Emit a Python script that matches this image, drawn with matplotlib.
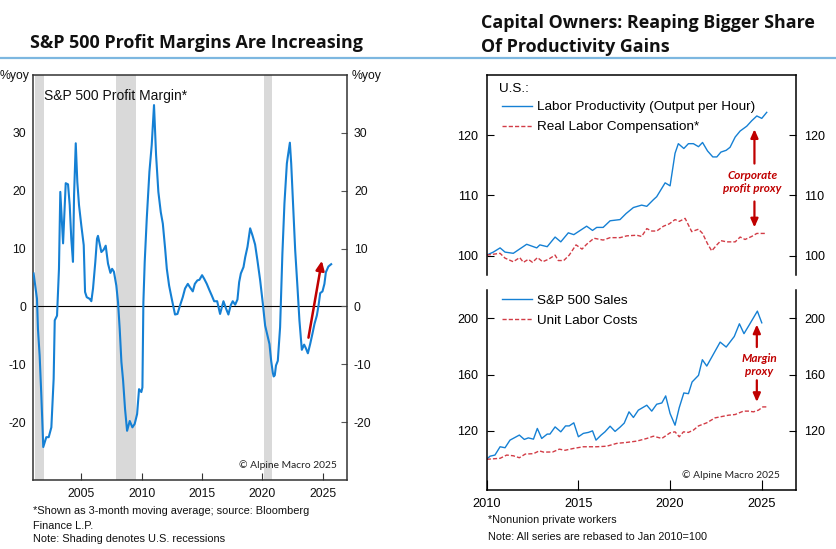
import matplotlib
matplotlib.use("Agg")
import matplotlib.pyplot as plt
from matplotlib.lines import Line2D

W, H = 836, 549
BLUE = "#1580D4"
RED = "#D23C46"
DARKRED = "#C00000"
SHADE = "#D9D9D9"
LINEBLUE = "#7DB7E0"

# ---------------- data: left chart ----------------
pm_year = [2001.05, 2001.33, 2001.41, 2001.55, 2001.69, 2001.85, 2002.1, 2002.3, 2002.52, 2002.71,
           2002.8, 2002.99, 2003.15, 2003.26, 2003.49, 2003.71, 2003.9, 2004.04, 2004.17, 2004.31,
           2004.4, 2004.54, 2004.67, 2004.81, 2005.0, 2005.2, 2005.31, 2005.45, 2005.7, 2005.83,
           2005.97, 2006.16, 2006.3, 2006.38, 2006.66, 2006.85, 2007.02, 2007.21, 2007.41, 2007.55,
           2007.7, 2007.9, 2008.04, 2008.18, 2008.32, 2008.46, 2008.62, 2008.79, 2009.01, 2009.23,
           2009.42, 2009.62, 2009.78, 2009.97, 2010.06, 2010.14, 2010.25, 2010.42, 2010.64, 2010.83,
           2011.02, 2011.19, 2011.38, 2011.58, 2011.75, 2011.94, 2012.08, 2012.27, 2012.49, 2012.76,
           2012.96, 2013.18, 2013.4, 2013.59, 2013.82, 2014.0, 2014.23, 2014.4, 2014.61, 2014.78,
           2015.0, 2015.17, 2015.39, 2015.61, 2015.8, 2016.0, 2016.25, 2016.49, 2016.77, 2016.99,
           2017.18, 2017.37, 2017.54, 2017.74, 2017.93, 2018.07, 2018.21, 2018.43, 2018.57, 2018.76,
           2018.98, 2019.17, 2019.39, 2019.58, 2019.81, 2020.03, 2020.22, 2020.44, 2020.58, 2020.72,
           2020.86, 2020.93, 2021.02, 2021.12, 2021.27, 2021.46, 2021.65, 2021.82, 2022.02, 2022.1,
           2022.27, 2022.38, 2022.51, 2022.71, 2022.9, 2023.06, 2023.26, 2023.45, 2023.59, 2023.76,
           2023.95, 2024.14, 2024.31, 2024.5, 2024.64, 2024.78, 2024.97, 2025.13, 2025.25, 2025.46,
           2025.69]
pm_value = [5.7, 1.3, -3.9, -8.5, -15.4, -24.3, -22.6, -22.6, -20.9, -12.5,
            -2.4, -1.6, 6.5, 19.8, 10.9, 21.3, 21.1, 17.5, 11.7, 7.7,
            19.2, 28.2, 21.5, 17.5, 14.0, 10.6, 2.5, 1.6, 1.3, 0.9,
            3.1, 7.7, 11.7, 12.2, 9.4, 9.8, 10.5, 7.4, 5.8, 6.5,
            6.0, 3.6, 0.7, -3.9, -9.6, -12.8, -17.7, -21.5, -19.8, -20.9,
            -20.3, -18.6, -14.3, -14.8, -14.0, 0.7, 7.7, 15.2, 23.3, 27.9,
            34.8, 26.2, 19.8, 16.3, 14.3, 10.0, 6.5, 3.6, 1.3, -1.4,
            -1.3, 0.2, 1.6, 3.1, 3.9, 3.3, 2.6, 3.9, 4.5, 4.6,
            5.4, 4.8, 3.9, 2.8, 1.9, 0.9, 0.9, -1.3, 0.9, -0.4,
            -1.4, 0.2, 0.9, 0.3, 1.2, 4.2, 5.7, 6.8, 8.5, 10.3,
            13.5, 12.3, 10.7, 8.0, 4.5, 0.5, -3.3, -5.3, -6.5, -9.4,
            -11.5, -12.1, -11.9, -10.2, -9.4, -3.6, 9.1, 17.8, 24.7, 25.9,
            28.3, 24.7, 18.9, 9.7, 3.3, -2.4, -7.5, -6.6, -7.2, -8.1,
            -6.5, -4.7, -3.0, -1.6, 0.1, 2.3, 2.6, 3.9, 5.9, 6.9,
            7.3]
recession_start = [2001.2, 2007.9, 2020.12]
recession_end = [2001.9, 2009.55, 2020.75]
pm_arrow_from = (2023.81, -5.4)
pm_arrow_to = (2024.92, 7.9)
left_xticks = [2005, 2010, 2015, 2020, 2025]
left_yticks = [-20, -10, 0, 10, 20, 30]

# ---------------- data: right top chart ----------------
prod_year = [2010.0, 2010.36, 2010.73, 2011.0, 2011.45, 2012.18, 2012.73, 2012.9, 2013.3, 2013.73,
             2014.04, 2014.45, 2014.75, 2015.45, 2015.77, 2016.0, 2016.35, 2016.73, 2017.27, 2017.6,
             2018.0, 2018.45, 2018.73, 2019.09, 2019.27, 2019.73, 2020.0, 2020.27, 2020.45, 2020.75,
             2021.0, 2021.27, 2021.55, 2021.77, 2022.04, 2022.33, 2022.55, 2022.77, 2023.06, 2023.27,
             2023.55, 2023.82, 2024.18, 2024.45, 2024.73, 2025.0, 2025.27]
prod_value = [100.1, 100.6, 101.3, 100.6, 100.4, 101.9, 101.3, 101.8, 101.5, 103.1,
              102.3, 103.8, 103.5, 104.9, 104.2, 104.7, 104.7, 105.8, 106.0, 107.0,
              108.0, 108.4, 108.2, 109.3, 109.8, 112.1, 111.6, 117.0, 118.6, 117.8,
              118.6, 118.6, 118.1, 118.8, 117.4, 116.4, 116.4, 117.2, 117.5, 118.0,
              119.7, 120.7, 121.5, 122.4, 123.2, 122.8, 123.8]
comp_year = [2010.0, 2010.73, 2011.0, 2011.45, 2011.8, 2012.0, 2012.27, 2012.5, 2012.77, 2013.05,
             2013.36, 2013.73, 2013.9, 2014.2, 2014.5, 2014.87, 2015.2, 2015.45, 2015.85, 2016.35,
             2016.73, 2017.27, 2017.64, 2018.18, 2018.45, 2018.73, 2019.0, 2019.27, 2019.64, 2019.96,
             2020.27, 2020.5, 2020.82, 2021.18, 2021.55, 2021.77, 2022.04, 2022.27, 2022.55, 2022.77,
             2023.1, 2023.55, 2023.82, 2024.09, 2024.45, 2024.73, 2025.0, 2025.27]
comp_value = [100.1, 100.4, 99.6, 99.0, 99.7, 98.9, 99.4, 98.9, 99.7, 99.0,
              99.4, 100.1, 99.2, 99.2, 100.1, 101.8, 101.1, 101.9, 102.9, 102.6,
              103.0, 103.0, 103.3, 103.4, 103.2, 104.5, 104.1, 104.1, 104.9, 105.3,
              106.0, 105.7, 106.2, 104.0, 104.4, 103.7, 102.0, 100.8, 101.8, 102.5,
              102.3, 102.3, 103.1, 102.7, 103.2, 103.7, 103.7, 103.7]

# ---------------- data: right bottom chart ----------------
sales_year = [2010.0, 2010.18, 2010.45, 2010.73, 2011.0, 2011.27, 2011.78, 2012.05, 2012.27, 2012.55,
              2012.76, 2013.0, 2013.3, 2013.45, 2013.73, 2014.04, 2014.3, 2014.5, 2014.75, 2015.0,
              2015.27, 2015.55, 2015.77, 2015.96, 2016.24, 2016.45, 2016.73, 2017.0, 2017.27, 2017.5,
              2017.76, 2018.0, 2018.27, 2018.73, 2019.0, 2019.27, 2019.55, 2019.76, 2020.0, 2020.27,
              2020.5, 2020.75, 2021.0, 2021.2, 2021.55, 2021.76, 2022.0, 2022.73, 2023.06, 2023.5,
              2023.78, 2024.03, 2024.33, 2024.76, 2025.0]
sales_value = [99.8, 102.0, 102.8, 108.7, 108.0, 113.4, 117.0, 113.9, 115.0, 114.1,
               121.7, 114.6, 117.7, 117.7, 122.8, 119.3, 123.5, 123.5, 125.7, 115.8,
               118.2, 118.9, 120.0, 113.4, 117.0, 119.3, 123.3, 119.6, 122.6, 125.5,
               133.5, 129.5, 134.7, 138.2, 134.0, 138.9, 139.8, 144.8, 132.3, 124.0,
               136.5, 146.9, 146.4, 154.7, 159.4, 170.5, 166.0, 183.0, 179.5, 187.0,
               196.0, 189.0, 195.5, 205.0, 196.7]
ulc_year = [2010.0, 2010.73, 2011.09, 2011.45, 2011.78, 2012.1, 2012.55, 2012.87, 2013.1, 2013.6,
            2013.96, 2014.27, 2014.73, 2015.27, 2016.0, 2016.55, 2017.09, 2017.64, 2018.18, 2018.73,
            2019.09, 2019.55, 2020.0, 2020.27, 2020.5, 2020.73, 2021.0, 2021.27, 2021.55, 2022.0,
            2022.45, 2022.76, 2023.18, 2023.55, 2024.0, 2024.27, 2024.55, 2024.82, 2025.06, 2025.27]
ulc_value = [99.8, 100.5, 102.8, 102.3, 100.9, 103.5, 103.8, 105.8, 104.9, 105.0,
             107.0, 106.2, 107.5, 108.7, 108.7, 109.1, 111.1, 111.8, 112.7, 114.6,
             116.2, 114.6, 118.6, 119.3, 115.8, 119.3, 118.9, 120.5, 123.5, 125.7,
             129.2, 130.0, 131.1, 131.6, 134.0, 134.0, 133.5, 134.7, 137.0, 137.0]
right_xticks = [2010, 2015, 2020, 2025]
top_yticks = [100, 110, 120]
bot_yticks = [120, 160, 200]

# ---------------- figure ----------------
TICKFONT = "Liberation Sans"
TITLEFONT = "Open Sans"
NOTEFONT = "Lato"
plt.rcParams["font.family"] = [TICKFONT, "DejaVu Sans"]
plt.rcParams["axes.unicode_minus"] = False

fig = plt.figure(figsize=(W / 100, H / 100), dpi=100)


def fx(px):
    return px / W


def fy(py):
    return 1 - py / H


def rect(l, t, r, b):
    return [fx(l), fy(b), fx(r) - fx(l), fy(t) - fy(b)]


# Titles and separator line
fig.text(fx(30), fy(43), "S&P 500 Profit Margins Are Increasing", fontsize=12.9,
         fontweight="bold", family=TITLEFONT, va="center", ha="left", color="#111111")
fig.text(fx(481), fy(23.5), "Capital Owners: Reaping Bigger Share", fontsize=12.9,
         fontweight="bold", family=TITLEFONT, va="center", ha="left", color="#111111")
fig.text(fx(481), fy(47), "Of Productivity Gains", fontsize=12.9,
         fontweight="bold", family=TITLEFONT, va="center", ha="left", color="#111111")
fig.add_artist(Line2D([0, 1], [fy(57.7), fy(57.7)], transform=fig.transFigure,
                      color=LINEBLUE, lw=1.6))

# ---------------- left chart ----------------
ax = fig.add_axes(rect(33, 75, 347, 480))
for s, e in zip(recession_start, recession_end):
    ax.axvspan(s, e, color=SHADE, lw=0, zorder=0)
ax.axhline(0, color="black", lw=0.8, zorder=1)
ax.plot(pm_year, pm_value, color=BLUE, lw=1.5, zorder=3)
ax.annotate("", xy=pm_arrow_to, xytext=pm_arrow_from,
            arrowprops=dict(arrowstyle="-|>,head_length=0.55,head_width=0.25",
                            color=DARKRED, lw=1.8, shrinkA=0, shrinkB=0), zorder=4)
ax.set_xlim(2001, 2027)
ax.set_ylim(-30, 40)
ax.set_xticks(left_xticks)
ax.set_yticks(left_yticks)
ax.tick_params(axis="x", direction="in", length=5, width=0.8, labelsize=8.8, pad=6,
               colors="#333333", labelcolor="#111111")
ax.tick_params(axis="y", direction="in", length=4, width=0.8, labelsize=8.8, pad=5,
               left=False, right=True, labelleft=True, labelright=True,
               colors="#555555", labelcolor="#111111")
for sp in ax.spines.values():
    sp.set_color("#333333")
    sp.set_linewidth(1.1)
ax.text(0.035, 0.965, "S&P 500 Profit Margin*", transform=ax.transAxes, fontsize=10,
        ha="left", va="top", color="#111111")
ax.text(0.969, 0.038, "\u00a9 Alpine Macro 2025", transform=ax.transAxes, fontsize=7.4,
        ha="right", va="center", family=NOTEFONT, color="#222222")
fig.text(fx(0), fy(76), "%yoy", fontsize=8.8, ha="left", va="center", color="#111111")
fig.text(fx(352), fy(76), "%yoy", fontsize=8.8, ha="left", va="center", color="#111111")
fig.text(fx(33), fy(510.7), "*Shown as 3-month moving average; source: Bloomberg",
         fontsize=7.9, ha="left", va="center", color="#111111")
fig.text(fx(33), fy(525.7), "Finance L.P.", fontsize=7.9, ha="left", va="center", color="#111111")
fig.text(fx(33), fy(539.5), "Note: Shading denotes U.S. recessions", fontsize=7.9,
         ha="left", va="center", color="#111111")

# ---------------- right top chart ----------------
ax1 = fig.add_axes(rect(486.7, 75, 795.7, 275))
ax1.plot(prod_year, prod_value, color=BLUE, lw=1.0, label="Labor Productivity (Output per Hour)")
ax1.plot(comp_year, comp_value, color=RED, lw=1.0, dashes=(3, 1.5),
         label="Real Labor Compensation*")
ax1.set_xlim(2010, 2026.85)
ax1.set_ylim(96.8, 130)
ax1.set_yticks(top_yticks)
ax1.set_xticks([])
ax1.spines["bottom"].set_visible(False)
for sp in ["left", "right", "top"]:
    ax1.spines[sp].set_linewidth(1.1)
ax1.tick_params(axis="y", direction="in", length=5, width=0.8, labelsize=9, pad=6,
                left=True, right=True, labelleft=True, labelright=True)
ax1.text(0.041, 0.9285, "U.S.:", transform=ax1.transAxes, fontsize=9.7, ha="left", va="center")
ax1.legend(loc="upper left", bbox_to_anchor=(0.0485, 0.87), frameon=False, fontsize=9.7,
           borderpad=0, borderaxespad=0, handlelength=2.25, handletextpad=0.4, labelspacing=0.55)
ax1.annotate("", xy=(2024.6, 121.0), xytext=(2024.6, 115.3),
             arrowprops=dict(arrowstyle="-|>,head_length=0.5,head_width=0.22", color=DARKRED,
                             lw=1.6, shrinkA=0, shrinkB=0))
ax1.annotate("", xy=(2024.6, 104.7), xytext=(2024.6, 109.0),
             arrowprops=dict(arrowstyle="-|>,head_length=0.5,head_width=0.22", color=DARKRED,
                             lw=1.6, shrinkA=0, shrinkB=0))
ax1.text(2024.5, 112.2, "Corporate\nprofit proxy", fontsize=8.5, fontweight="bold",
         fontstyle="italic", family=NOTEFONT, color=DARKRED, ha="center", va="center",
         linespacing=1.25)

# ---------------- right bottom chart ----------------
ax2 = fig.add_axes(rect(486.7, 290, 795.7, 490))
ax2.plot(sales_year, sales_value, color=BLUE, lw=1.0, label="S&P 500 Sales")
ax2.plot(ulc_year, ulc_value, color=RED, lw=1.0, dashes=(3, 1.5), label="Unit Labor Costs")
ax2.set_xlim(2010, 2026.85)
ax2.set_ylim(78, 220)
ax2.set_yticks(bot_yticks)
ax2.set_xticks(right_xticks)
ax2.spines["top"].set_visible(False)
for sp in ["left", "right", "bottom"]:
    ax2.spines[sp].set_linewidth(1.1)
ax2.tick_params(axis="y", direction="in", length=5, width=0.8, labelsize=9, pad=6,
                left=True, right=True, labelleft=True, labelright=True)
ax2.tick_params(axis="x", direction="in", length=7, width=0.8, labelsize=9.2, pad=6)
ax2.legend(loc="upper left", bbox_to_anchor=(0.0485, 0.978), frameon=False, fontsize=9.7,
           borderpad=0, borderaxespad=0, handlelength=2.25, handletextpad=0.4, labelspacing=0.55)
ax2.annotate("", xy=(2024.73, 195.5), xytext=(2024.73, 179.5),
             arrowprops=dict(arrowstyle="-|>,head_length=0.5,head_width=0.22", color=DARKRED,
                             lw=1.6, shrinkA=0, shrinkB=0))
ax2.annotate("", xy=(2024.73, 140.5), xytext=(2024.73, 155.9),
             arrowprops=dict(arrowstyle="-|>,head_length=0.5,head_width=0.22", color=DARKRED,
                             lw=1.6, shrinkA=0, shrinkB=0))
ax2.text(2024.87, 166.5, "Margin\nproxy", fontsize=8.5, fontweight="bold",
         fontstyle="italic", family=NOTEFONT, color=DARKRED, ha="center", va="center",
         linespacing=1.25)
ax2.text(0.949, 0.075, "\u00a9 Alpine Macro 2025", transform=ax2.transAxes, fontsize=7.4,
         ha="right", va="center", family=NOTEFONT, color="#222222")
fig.text(fx(488), fy(520), "*Nonunion private workers", fontsize=7.8, ha="left", va="center",
         color="#111111")
fig.text(fx(488), fy(537.3), "Note: All series are rebased to Jan 2010=100", fontsize=7.8,
         ha="left", va="center", color="#111111")

fig.savefig("out.png", dpi=100)
